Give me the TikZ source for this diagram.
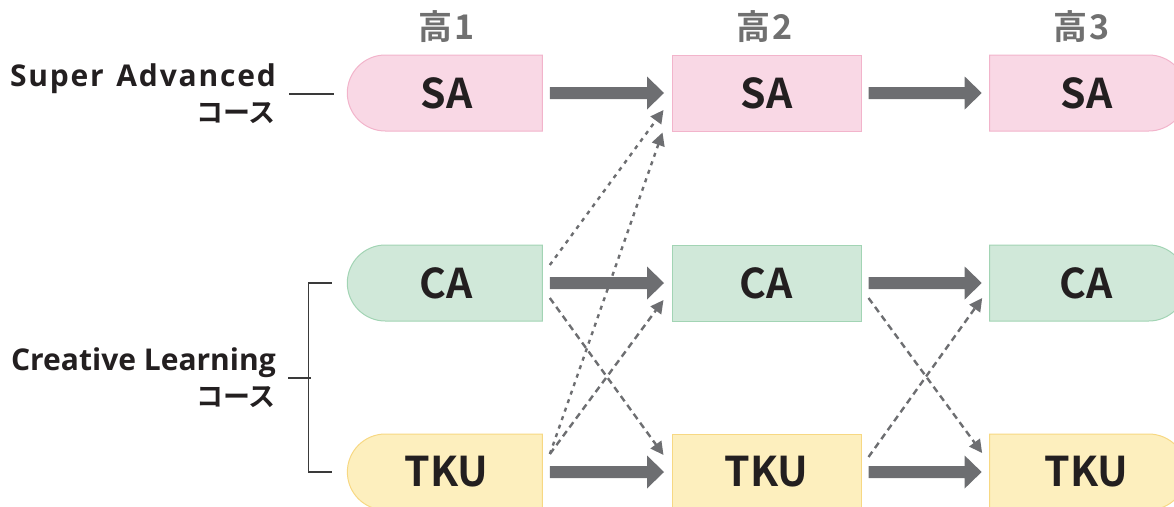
\documentclass[tikz,border=0pt]{standalone}
\usepackage{fontspec}
\setmainfont{Noto Sans CJK JP}[BoldFont={Noto Sans CJK JP Bold}]
\newfontfamily\osans{Open Sans}
\newfontfamily\osanswide{Open Sans}[LetterSpace=6]
\usetikzlibrary{arrows.meta,shapes.misc,calc}
\definecolor{agray}{HTML}{6D6E71}
\definecolor{hgray}{HTML}{707070}
\definecolor{tblack}{HTML}{231F20}
\definecolor{lgray}{HTML}{3A3A3A}
\definecolor{safill}{HTML}{F9D8E5}
\definecolor{saline}{HTML}{F2B4CB}
\definecolor{cafill}{HTML}{D0E8D9}
\definecolor{caline}{HTML}{A2D4B4}
\definecolor{tkfill}{HTML}{FDEFBE}
\definecolor{tkline}{HTML}{F7D883}
\newcommand\fatarrow[2]{%
  \path ([xshift=7pt]#1.east) coordinate (fs) ([xshift=-7.5pt]#2.west) coordinate (ft);
  \fill[agray] ($(fs)+(0,-6)$) -- ($(ft)+(-17,-6)$) -- ($(ft)+(-17,-16.5)$) -- (ft)
    -- ($(ft)+(-17,16.5)$) -- ($(ft)+(-17,6)$) -- ($(fs)+(0,6)$) -- cycle;}
\newcommand\jpl[1]{{\fontsize{27}{36}\selectfont #1}}
\begin{document}
\begin{tikzpicture}[x=1pt,y=-1pt,
  box/.style={rounded rectangle, minimum height=76pt, inner sep=0pt, line width=1pt,
    font=\bfseries\fontsize{41}{41}\selectfont, text=tblack},
  lround/.style={rounded rectangle right arc=none, minimum width=195pt},
  rround/.style={rounded rectangle left arc=none, minimum width=197pt},
  sqbox/.style={rectangle, minimum width=189pt},
  sabox/.style={fill=safill, draw=saline},
  cabox/.style={fill=cafill, draw=caline},
  tkbox/.style={fill=tkfill, draw=tkline},
  head/.style={font=\bfseries\fontsize{34}{34}\selectfont, text=hgray, inner sep=0pt, anchor=base},
  lab/.style={font=\bfseries\fontsize{30}{36}\selectfont, text=tblack, align=right, inner sep=0pt, anchor=east},
  thin/.style={draw=lgray, line width=1.3pt},
  dsh/.style={draw=agray, line width=2.4pt, dash pattern=on 6.5pt off 4.5pt, -{Triangle[length=13pt,width=13pt]}},
  dotl/.style={dsh, dash pattern=on 4pt off 5pt}]
\useasboundingbox (0,0) rectangle (1174,506);
% headers
\node[head] (h1) at (447,39) {高\kern2pt 1};
\node[head] (h2) at (765,39) {高\kern2pt 2};
\node[head] (h3) at (1082,39) {高\kern2pt 3};
% boxes
\node[box,lround,sabox] (sa1) at (446.5,93) {SA};
\node[box,sqbox,sabox] (sa2) at (766.5,93) {SA};
\node[box,rround,sabox] (sa3) at (1086.5,93) {SA};
\node[box,lround,cabox] (ca1) at (446.5,283) {CA};
\node[box,sqbox,cabox] (ca2) at (766.5,283) {CA};
\node[box,rround,cabox] (ca3) at (1086.5,283) {CA};
\node[box,lround,tkbox] (tku1) at (446.5,472) {TKU};
\node[box,sqbox,tkbox] (tku2) at (766.5,472) {TKU};
\node[box,rround,tkbox] (tku3) at (1086.5,472) {TKU};
% left labels
\node[lab] (lab1) at (276,94) {{\osanswide Super\hspace{3pt} Advanced}\\\jpl{コース}};
\node[lab] (lab2) at (276,378) {{\osans Creative Learning}\\\jpl{コース}};
\draw[thin] ([xshift=13pt]lab1.east) -- ++(45,0);
\draw[thin] ([xshift=-15pt]ca1.west) -- ++(-23,0) |- ([xshift=-15pt]tku1.west);
\draw[thin] ([xshift=12pt]lab2.east) -- ++(23,0);
% solid fat arrows
\fatarrow{sa1}{sa2}
\fatarrow{sa2}{sa3}
\fatarrow{ca1}{ca2}
\fatarrow{ca2}{ca3}
\fatarrow{tku1}{tku2}
\fatarrow{tku2}{tku3}
% dashed arrows
\draw[dotl] ([xshift=7pt,yshift=18pt]ca1.east) -- ([xshift=-8pt,yshift=-17pt]sa2.west);
\draw[dotl] ([xshift=7pt,yshift=18pt]tku1.east) -- ([xshift=-9pt,yshift=-1pt]sa2.south west);
\draw[dsh] ([xshift=7pt,yshift=-15pt]ca1.east) -- ([xshift=-8pt,yshift=17pt]tku2.west);
\draw[dsh] ([xshift=7pt,yshift=18pt]tku1.east) -- ([xshift=-8pt,yshift=-17pt]ca2.west);
\draw[dsh] ([xshift=7pt,yshift=-15pt]ca2.east) -- ([xshift=-7pt,yshift=19pt]tku3.west);
\draw[dsh] ([xshift=7pt,yshift=15pt]tku2.east) -- ([xshift=-7pt,yshift=-15pt]ca3.west);
\end{tikzpicture}
\end{document}
